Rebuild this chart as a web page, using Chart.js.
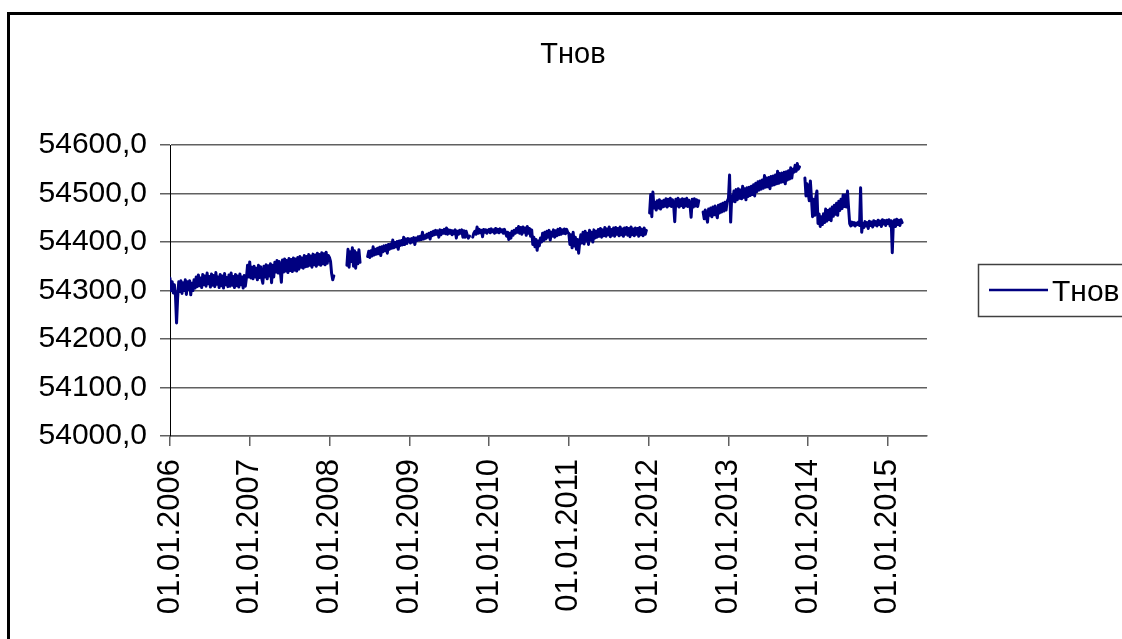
<!DOCTYPE html>
<html>
<head>
<meta charset="utf-8">
<title>Тнов</title>
<script src="https://cdn.jsdelivr.net/npm/chart.js@4.4.1/dist/chart.umd.min.js"></script>
<style>
    html, body { margin: 0; padding: 0; background: #fff; overflow: hidden; }
    #wrap { position: relative; width: 1122px; height: 639px; overflow: hidden; }
    #frame { position: absolute; left: 7px; top: 12px; width: 1300px; height: 800px; border: 3px solid #000; }
    #chart { position: absolute; left: 0; top: 0; }
</style>
</head>
<body>
<div id="wrap">
    <div id="frame"></div>
    <canvas id="chart" width="1122" height="639"></canvas>
</div>
<script>
// Readings every 5 days from 1 January of each year; null = no data
const t2006 = [
    54325, 54300, 54318, 54295, 54312, 54290, 54233, 54285, 54318, 54298,
    54320, 54294, 54316, 54300, 54322, 54292, 54318, 54302, 54320, 54291,
    54315, 54300, 54322, 54305, 54328, 54308, 54332, 54310, 54326, 54306,
    54333, 54312, 54330, 54309, 54336, 54314, 54329, 54307, 54334, 54311,
    54331, 54308, 54337, 54313, 54328, 54306, 54333, 54310, 54330, 54305,
    54335, 54312, 54327, 54308, 54332, 54309, 54336, 54311, 54329, 54306,
    54333, 54310, 54330, 54307, 54334, 54312, 54328, 54305, 54331, 54309,
    54326, 54352, 54328
];
const t2007 = [
    54359, 54326, 54348, 54324, 54350, 54328, 54346, 54322, 54352, 54327,
    54349, 54325, 54315, 54350, 54328, 54353, 54324, 54351, 54330, 54355,
    54316, 54352, 54328, 54358, 54338, 54362, 54336, 54360, 54340, 54317,
    54363, 54338, 54365, 54340, 54362, 54337, 54366, 54341, 54364, 54339,
    54367, 54342, 54365, 54340, 54368, 54344, 54370, 54348, 54367, 54346,
    54372, 54349, 54370, 54350, 54374, 54352, 54371, 54348, 54375, 54353,
    54373, 54350, 54377, 54354, 54374, 54352, 54378, 54355, 54376, 54353,
    54379, 54356, 54372
];
const t2008 = [
    54368, 54360, 54335, 54322, 54330, null, null, null, null, null,
    null, null, null, null, null, null, 54352, 54385, 54348, 54380,
    54360, 54388, 54350, 54382, 54346, 54378, 54355, 54384, 54358, null,
    null, null, null, null, null, 54370, 54381, 54368, 54382, 54371,
    54390, 54373, 54385, 54375, 54387, 54376, 54389, 54372, 54390, 54380,
    54392, 54382, 54393, 54377, 54395, 54385, 54396, 54387, 54404, 54388,
    54399, 54390, 54401, 54385, 54402, 54393, 54403, 54394, 54410, 54395,
    54406, 54397, 54407
];
const t2009 = [
    54406, 54398, 54407, 54400, 54409, 54395, 54408, 54403, 54411, 54404,
    54412, 54405, 54420, 54406, 54413, 54408, 54416, 54410, 54418, 54406,
    54420, 54413, 54422, 54415, 54424, 54416, 54423, 54410, 54425, 54415,
    54424, 54418, 54426, 54417, 54429, 54416, 54425, 54418, 54424, 54415,
    54423, 54417, 54425, 54408, 54422, 54416, 54424, 54418, 54425, 54410,
    54423, 54410, 54422, 54414, 54408, 54412, null, null, 54410, 54418,
    54422, 54416, 54431, 54418, 54426, 54419, 54424, 54411, 54426, 54420,
    54425, 54418, 54424
];
const t2010 = [
    54426, 54419, 54427, 54421, 54425, 54418, 54428, 54420, 54426, 54419,
    54427, 54421, 54425, 54418, 54426, 54420, 54412, 54420, 54405, 54418,
    54408, 54422, 54414, 54424, 54418, 54428, 54420, 54432, 54418, 54430,
    54416, 54431, 54420, 54429, 54414, 54432, 54418, 54428, 54412, 54425,
    54395, 54410, 54390, 54405, 54383, 54402, 54392, 54408, 54400, 54418,
    54403, 54420, 54406, 54422, 54410, 54424, 54404, 54420, 54412, 54425,
    54410, 54423, 54413, 54426, 54415, 54428, 54416, 54425, 54418, 54427,
    54417, 54426, 54420
];
const t2011 = [
    54418, 54395, 54415, 54388, 54420, 54392, 54410, 54385, 54405, 54377,
    54400, 54415, 54398, 54420, 54396, 54422, 54402, 54418, 54395, 54424,
    54404, 54420, 54400, 54425, 54408, 54422, 54410, 54426, 54412, 54428,
    54410, 54425, 54413, 54430, 54412, 54427, 54415, 54431, 54411, 54426,
    54414, 54429, 54412, 54430, 54416, 54428, 54413, 54431, 54415, 54427,
    54412, 54429, 54416, 54430, 54414, 54428, 54411, 54431, 54415, 54427,
    54413, 54429, 54416, 54428, 54412, 54430, 54415, 54426, 54413, 54429,
    54416, 54424, null
];
const t2012 = [
    null, 54460, 54498, 54452, 54503, 54470, 54482, 54466, 54485, 54470,
    54487, 54468, 54484, 54472, 54486, 54474, 54489, 54472, 54488, 54475,
    54490, 54473, 54487, 54476, 54442, 54488, 54474, 54490, 54472, 54487,
    54475, 54489, 54471, 54488, 54474, 54490, 54473, 54486, 54476, 54451,
    54488, 54472, 54489, 54474, 54487, 54473, 54485, null, null, null,
    54462, 54448, 54466, 54452, 54441, 54468, 54455, 54470, 54452, 54472,
    54456, 54474, 54458, 54450, 54476, 54460, 54478, 54462, 54480, 54464,
    54482, 54466, 54484
];
const t2013 = [
    54490, 54538, 54441, 54495, 54484, 54505, 54483, 54508, 54487, 54510,
    54490, 54507, 54489, 54515, 54492, 54510, 54487, 54512, 54494, 54513,
    54496, 54515, 54498, 54518, 54495, 54521, 54504, 54524, 54507, 54526,
    54509, 54528, 54511, 54537, 54513, 54532, 54514, 54533, 54510, 54535,
    54517, 54536, 54518, 54538, 54520, 54546, 54521, 54541, 54523, 54542,
    54524, 54544, 54520, 54545, 54528, 54547, 54530, 54553, 54532, 54550,
    54544, 54558, 54546, 54562, 54550, 54555, null, null, null, null,
    54532, 54495, 54520
];
const t2014 = [
    54500, 54485, 54526, 54490, 54452, 54488, 54455, 54493, 54505, 54438,
    54458, 54432, 54452, 54436, 54458, 54440, 54468, 54443, 54465, 54446,
    54468, 54444, 54472, 54453, 54476, 54457, 54480, 54455, 54484, 54465,
    54488, 54469, 54497, 54473, 54497, 54472, 54505, 54470, 54438, 54433,
    54441, 54435, 54440, 54433, 54439, 54436, 54441, 54434, 54512, 54420,
    54438, 54430, 54442, 54433, 54440, 54428, 54443, 54434, 54441, 54431,
    54444, 54435, 54442, 54433, 54445, 54436, 54443, 54432, 54446, 54437,
    54444, 54434, 54445
];
const t2015 = [
    54438, 54446, 54433, 54444, 54378, 54440, 54445, 54432, 54447, 54436,
    54445, 54434, 54446, 54440
];

const yearTicks = [2006, 2007, 2008, 2009, 2010, 2011, 2012, 2013, 2014, 2015];
const valueTicks = [54000, 54100, 54200, 54300, 54400, 54500, 54600];
const seriesName = 'Тнов';

const DAY = 86400000;
const STEP_DAYS = 5;
const byYear = { 2006: t2006, 2007: t2007, 2008: t2008, 2009: t2009, 2010: t2010, 2011: t2011, 2012: t2012, 2013: t2013, 2014: t2014, 2015: t2015 };

const points = [];
Object.keys(byYear).forEach(function (year) {
    const start = Date.UTC(Number(year), 0, 1);
    byYear[year].forEach(function (v, i) {
        points.push({ x: start + i * STEP_DAYS * DAY, y: v });
    });
});

const FONT = '"Liberation Sans", Arial, sans-serif';
const GRID = '#606060';

// title and legend sit at fixed spots inside the frame
const frameText = {
    id: 'frameText',
    afterDraw(chart) {
        const ctx = chart.ctx;
        ctx.save();
        ctx.fillStyle = '#000';
        ctx.font = '29px ' + FONT;
        ctx.textAlign = 'center';
        ctx.textBaseline = 'alphabetic';
        ctx.fillText(seriesName, 573, 63);

        ctx.fillStyle = '#fff';
        ctx.fillRect(978.5, 264.5, 170, 52);
        ctx.strokeStyle = '#404040';
        ctx.lineWidth = 1.5;
        ctx.strokeRect(978.5, 264.5, 170, 52);

        ctx.strokeStyle = '#000080';
        ctx.lineWidth = 2.5;
        ctx.beginPath();
        ctx.moveTo(989, 290);
        ctx.lineTo(1048, 290);
        ctx.stroke();

        ctx.fillStyle = '#000';
        ctx.font = '30px ' + FONT;
        ctx.textAlign = 'left';
        ctx.fillText(seriesName, 1052, 301);
        ctx.restore();
    }
};

new Chart(document.getElementById('chart'), {
    type: 'line',
    data: {
        datasets: [{
            label: seriesName,
            data: points,
            borderColor: '#000080',
            borderWidth: 3,
            borderJoinStyle: 'round',
            borderCapStyle: 'round',
            pointRadius: 0,
            tension: 0,
            spanGaps: false
        }]
    },
    options: {
        responsive: false,
        animation: false,
        layout: { padding: { top: 145, right: 195, left: 0, bottom: 0 } },
        plugins: {
            legend: { display: false },
            title: { display: false },
            tooltip: { enabled: false }
        },
        scales: {
            x: {
                type: 'linear',
                min: Date.UTC(2006, 0, 1),
                max: Date.UTC(2006, 0, 1) + 3466 * DAY,
                afterFit(axis) { axis.height = 203; },
                afterBuildTicks(axis) {
                    axis.ticks = yearTicks.map(y => ({ value: Date.UTC(y, 0, 1) }));
                },
                grid: { drawOnChartArea: false, drawTicks: true, tickLength: 10, color: GRID, lineWidth: 1.5 },
                border: { display: true, color: GRID, width: 1.5 },
                ticks: {
                    autoSkip: false,
                    minRotation: 90,
                    maxRotation: 90,
                    padding: 13,
                    color: '#000',
                    font: { family: FONT, size: 31 },
                    callback: function (value) {
                        return '01.01.' + new Date(value).getUTCFullYear();
                    }
                }
            },
            y: {
                min: 54000,
                max: 54600,
                afterFit(axis) { axis.width = 170; },
                afterBuildTicks(axis) {
                    axis.ticks = valueTicks.map(v => ({ value: v }));
                },
                grid: { color: GRID, lineWidth: 1.5, tickLength: 10 },
                border: { display: true, color: '#000', width: 1 },
                ticks: {
                    padding: 13,
                    color: '#000',
                    font: { family: FONT, size: 30 },
                    callback: function (value) {
                        return value.toFixed(1).replace('.', ',');
                    }
                }
            }
        }
    },
    plugins: [frameText]
});
</script>
</body>
</html>
